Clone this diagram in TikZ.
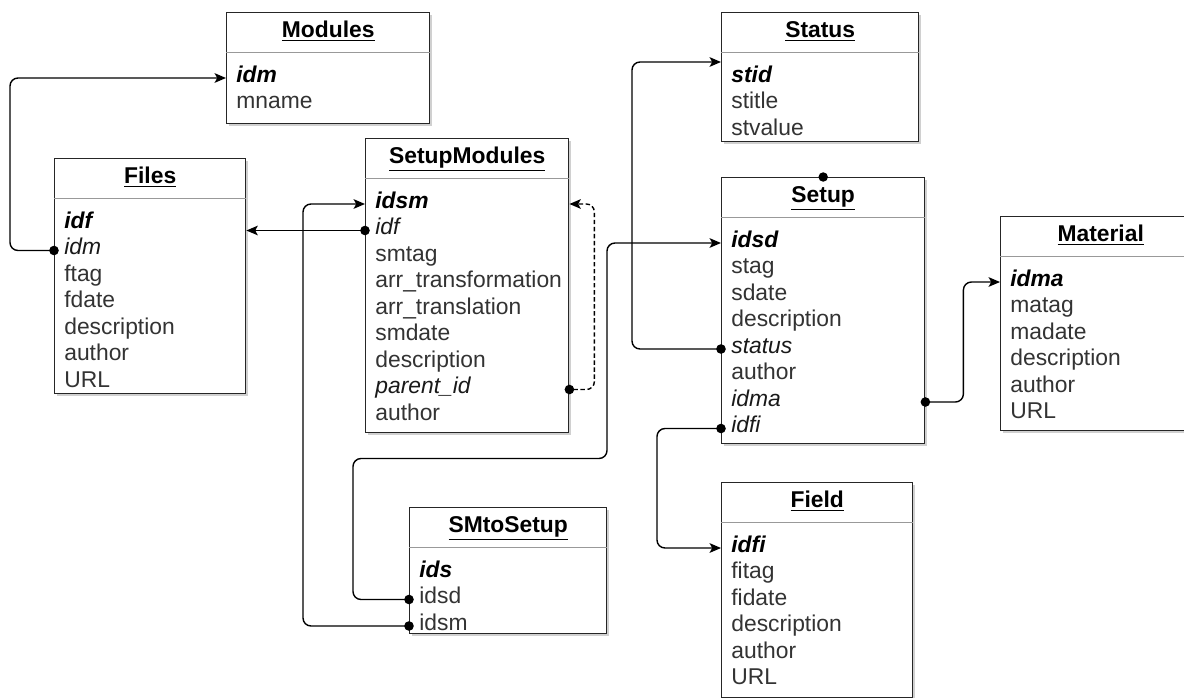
\documentclass[tikz,border=0pt]{standalone}
\usepackage{fontspec}
\setmainfont{Liberation Sans}
\usetikzlibrary{arrows.meta,calc,shadows}

% a table: name, top left corner (x,y), width, height, title, rows
\newcommand{\dbtable}[7]{
  \node[tbl, minimum width=#4*0.02cm, minimum height=#5*0.02cm] (#1) at (#2,#3) {};
  \node[tblhead] (#1-head) at ($(#1.north)+(0,21)$) {\underline{#6}};
  \draw[tblrule] ($(#1.north west)+(0,40)$) -- ($(#1.north east)+(0,40)$);
  \foreach \txt/\kind [count=\i] in {#7}
    \node[\kind] (#1-\i) at ($(#1.north west)+(0,{66+26.5*(\i-1)})$) {\txt};
}

\begin{document}
\begin{tikzpicture}[x=0.02cm, y=-0.02cm, font=\fontsize{13}{16}\selectfont,
    tbl/.style={draw=black!85, line width=0.8pt, fill=white, anchor=north west, inner sep=0pt,
      drop shadow={shadow xshift=0.05cm, shadow yshift=-0.05cm, fill=black!30, opacity=0.6}},
    tblhead/.style={inner sep=0pt, text height=0.72em, text depth=0.22em, execute at begin node=\bfseries},
    tblrule/.style={draw=black!40, line width=0.5pt},
    attr/.style={anchor=west, inner xsep=0.2cm, inner ysep=0pt, text height=0.72em, text depth=0.22em, text=black!80},
    pkey/.style={attr, text=black, execute at begin node=\bfseries\itshape},
    fkey/.style={attr, text=black!90, execute at begin node=\itshape},
    fkline/.style={line width=0.8pt, rounded corners=0.16cm, shorten <=-2.7pt,
      arrows={Circle[length=5.4pt]-Stealth[length=6.5pt, width=5.5pt, inset=1.5pt]}},
    selfline/.style={fkline, dash pattern=on 2.5pt off 1.5pt}]
  \useasboundingbox (0,0) rectangle (1184,697);
  \fill[white] (0,0) rectangle (1184,697);

  \dbtable{modules}{226}{12}{203}{111}{Modules}{idm/pkey, mname/attr}
  \dbtable{files}{54}{158}{191}{235}{Files}{idf/pkey, idm/fkey, ftag/attr, fdate/attr, description/attr, author/attr, URL/attr}
  \dbtable{smod}{365}{138}{203}{294}{SetupModules}{idsm/pkey, idf/fkey, smtag/attr, arr\_transformation/attr, arr\_translation/attr, smdate/attr, description/attr, parent\_id/fkey, author/attr}
  \dbtable{status}{721}{12}{197}{129}{Status}{stid/pkey, stitle/attr, stvalue/attr}
  \dbtable{setup}{721}{177}{203}{266}{Setup}{idsd/pkey, stag/attr, sdate/attr, description/attr, status/fkey, author/attr, idma/fkey, idfi/fkey}
  \dbtable{material}{1000}{216}{200}{214}{Material}{idma/pkey, matag/attr, madate/attr, description/attr, author/attr, URL/attr}
  \dbtable{sms}{409}{507}{197}{126}{SMtoSetup}{ids/pkey, idsd/attr, idsm/attr}
  \dbtable{field}{721}{482}{191}{215}{Field}{idfi/pkey, fitag/attr, fidate/attr, description/attr, author/attr, URL/attr}

  % relations
  \draw[fkline] (files-2.west) -- ++(-44,0) |- (modules-1.west);
  \draw[fkline] (smod-2.west) -- (files.east |- smod-2.west);
  \draw[fkline] (sms-3.west) -- ++(-106,0) |- (smod-1.west);
  \draw[selfline] (smod.east |- smod-8) -- ++(25,0) |- (smod.east |- smod-1);
  \draw[fkline] (setup-5.west) -- ++(-89,0) |- ($(status.north west)+(0,50)$);
  \draw[fkline] (sms-2.west) -- ++(-56,0) |- ++(254,-141) |- (setup-1.west);
  \draw[fkline] (setup-8.west) -- ++(-64,0) |- (field-1.west);
  \draw[fkline] (setup.east |- setup-7) -- ++(38,0) |- (material-1.west);
  \fill (setup.north) circle (2.7pt);
\end{tikzpicture}
\end{document}
